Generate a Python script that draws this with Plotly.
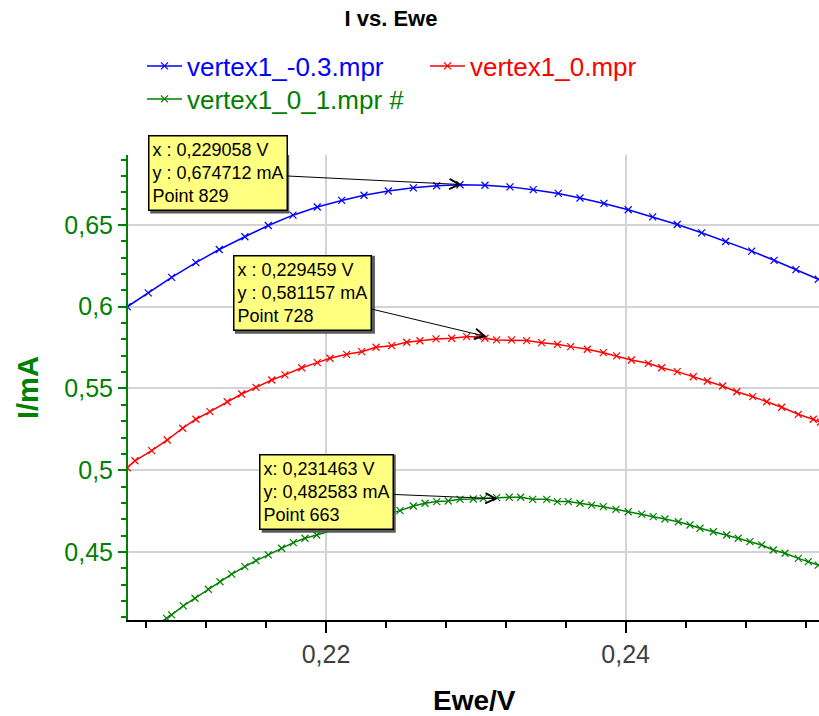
import plotly.graph_objects as go

# ---------------- data ----------------
blue_name = "vertex1_-0.3.mpr"
blue_x = [0.20674, 0.20814, 0.20970, 0.21132, 0.21288, 0.21459, 0.21615, 0.21780, 0.21942, 0.22105,
          0.22254, 0.22416, 0.22583, 0.22739, 0.22894, 0.23061, 0.23228, 0.23383, 0.23550, 0.23695,
          0.23855, 0.24017, 0.24180, 0.24344, 0.24507, 0.24667, 0.24841, 0.24990, 0.25136, 0.25285]
blue_y = [0.6000, 0.6085, 0.6180, 0.6270, 0.6350, 0.6428, 0.6497, 0.6560, 0.6610, 0.6650,
          0.6682, 0.6708, 0.6727, 0.6740, 0.6746, 0.6743, 0.6733, 0.6716, 0.6693, 0.6665,
          0.6632, 0.6593, 0.6550, 0.6503, 0.6452, 0.6399, 0.6340, 0.6284, 0.6227, 0.6168]

red_name = "vertex1_0.mpr"
red_x = [0.20674, 0.20725, 0.20837, 0.20941, 0.21044, 0.21132, 0.21226, 0.21341, 0.21437, 0.21533,
         0.21638, 0.21726, 0.21838, 0.21942, 0.22027, 0.22138, 0.22238, 0.22334, 0.22438, 0.22539,
         0.22627, 0.22734, 0.22839, 0.22939, 0.23016, 0.23061, 0.23139, 0.23239, 0.23339, 0.23439,
         0.23544, 0.23633, 0.23744, 0.23851, 0.23940, 0.24038, 0.24151, 0.24240, 0.24344, 0.24451,
         0.24545, 0.24647, 0.24741, 0.24848, 0.24941, 0.25041, 0.25152, 0.25252, 0.25300]
red_y = [0.5015, 0.5058, 0.5120, 0.5185, 0.5257, 0.5312, 0.5358, 0.5419, 0.5466, 0.5507,
         0.5552, 0.5583, 0.5627, 0.5658, 0.5685, 0.5709, 0.5725, 0.5752, 0.5762, 0.5783,
         0.5792, 0.5803, 0.5807, 0.5817, 0.5817, 0.5807, 0.5797, 0.5797, 0.5793, 0.5780,
         0.5770, 0.5756, 0.5740, 0.5719, 0.5699, 0.5674, 0.5654, 0.5627, 0.5603, 0.5572,
         0.5546, 0.5515, 0.5480, 0.5450, 0.5419, 0.5385, 0.5342, 0.5312, 0.5295]

green_name = "vertex1_0_1.mpr #"
green_x = [0.20880, 0.20937, 0.20970, 0.21048, 0.21126, 0.21215, 0.21293, 0.21371, 0.21459, 0.21533,
           0.21615, 0.21704, 0.21782, 0.21860, 0.21938, 0.22494, 0.22583, 0.22661, 0.22739, 0.22816,
           0.22894, 0.22983, 0.23050, 0.23139, 0.23223, 0.23299, 0.23379, 0.23473, 0.23544, 0.23617,
           0.23695, 0.23773, 0.23851, 0.23935, 0.24017, 0.24107, 0.24184, 0.24262, 0.24351, 0.24429,
           0.24496, 0.24585, 0.24674, 0.24751, 0.24829, 0.24908, 0.24985, 0.25063, 0.25152, 0.25219,
           0.25285]
green_y = [0.4060, 0.4094, 0.4115, 0.4170, 0.4217, 0.4272, 0.4318, 0.4365, 0.4410, 0.4447,
           0.4482, 0.4523, 0.4557, 0.4584, 0.4604, 0.4753, 0.4781, 0.4798, 0.4808, 0.4812,
           0.4822, 0.4824, 0.4828, 0.4832, 0.4835, 0.4835, 0.4822, 0.4822, 0.4808, 0.4808,
           0.4798, 0.4787, 0.4777, 0.4761, 0.4746, 0.4732, 0.4716, 0.4702, 0.4685, 0.4665,
           0.4645, 0.4624, 0.4604, 0.4584, 0.4563, 0.4543, 0.4512, 0.4492, 0.4461, 0.4441,
           0.4420]

x_tickvals = [0.22, 0.24]
x_ticktext = ["0,22", "0,24"]
y_tickvals = [0.45, 0.5, 0.55, 0.6, 0.65]
y_ticktext = ["0,45", "0,5", "0,55", "0,6", "0,65"]

# cursor annotations: (arrow tip x, arrow tip y, text lines)
ann_tip_x = [0.229058, 0.23074, 0.231463]
ann_tip_y = [0.674712, 0.5817, 0.482583]
ann_text = [
    ["x : 0,229058 V", "y : 0,674712 mA", "Point 829"],
    ["x : 0,229459 V", "y : 0,581157 mA", "Point 728"],
    ["x: 0,231463 V", "y: 0,482583 mA", "Point 663"],
]
ann_offset = [(-244, -12), (-184, -44), (-171, -7)]
ann_box_size = [(139, 78), (140, 78), (134, 78)]   # approx rendered box size, for the drop shadow

# ---------------- figure ----------------
FONT = "Arial, Liberation Sans, sans-serif"
GREEN = "#008000"
W, H = 819, 716
ML, MR, MT, MB = 128, 0, 155, 96
PW, PH = W - ML - MR, H - MT - MB


def px_to_paper_x(px):
    return (px - ML) / PW


def px_to_paper_y(py):
    return (H - MB - py) / PH


fig = go.Figure()
series = [
    (blue_name, blue_x, blue_y, "#0000FF", "legend"),
    (red_name, red_x, red_y, "#FF0000", "legend2"),
    (green_name, green_x, green_y, "#008000", "legend3"),
]
for name, xs, ys, col, lg in series:
    fig.add_trace(go.Scatter(
        x=xs, y=ys, name=name, mode="lines+markers", legend=lg,
        line=dict(color=col, width=1.5),
        marker=dict(symbol="x-thin", size=7, color=col, line=dict(color=col, width=1.2)),
    ))

annotations = []
shapes = []
SH = 2
for tx, ty, lines, (ax, ay), (bw_, bh_) in zip(ann_tip_x, ann_tip_y, ann_text, ann_offset, ann_box_size):
    annotations.append(dict(
        x=tx, y=ty, xref="x", yref="y", text="<br>".join(lines),
        showarrow=True, ax=ax, ay=ay, axref="pixel", ayref="pixel",
        arrowhead=5, arrowsize=2, arrowwidth=1, arrowcolor="black",
        font=dict(family=FONT, size=18, color="black"), align="left",
        bgcolor="#FFFF80", bordercolor="black", borderwidth=1.5, borderpad=3,
    ))
    # drop shadow behind the box
    shapes.append(dict(
        type="rect", layer="above", xref="x", yref="y",
        xsizemode="pixel", ysizemode="pixel", xanchor=tx, yanchor=ty,
        x0=ax - bw_ / 2 + SH, x1=ax + bw_ / 2 + SH,
        y0=-ay - bh_ / 2 - SH, y1=-ay + bh_ / 2 - SH,
        fillcolor="#5a5a5a", line=dict(width=0),
    ))

# axis titles
annotations.append(dict(text="<b>Ewe/V</b>", xref="paper", yref="paper",
                        x=px_to_paper_x(475), y=px_to_paper_y(700), xanchor="center", yanchor="middle",
                        showarrow=False, font=dict(family=FONT, size=28, color="black")))
annotations.append(dict(text="<b>I/mA</b>", xref="paper", yref="paper",
                        x=px_to_paper_x(28), y=px_to_paper_y(388), xanchor="center", yanchor="middle",
                        textangle=-90, showarrow=False, font=dict(family=FONT, size=29, color=GREEN)))


def legend_at(px, py, col):
    return dict(xref="paper", yref="paper", x=px_to_paper_x(px), y=px_to_paper_y(py),
                xanchor="left", yanchor="middle", bgcolor="rgba(0,0,0,0)", orientation="h",
                itemwidth=35,
                font=dict(family=FONT, size=26, color=col), borderwidth=0)


fig.update_layout(
    width=W, height=H, autosize=False,
    margin=dict(l=ML, r=MR, t=MT, b=MB, pad=0),
    paper_bgcolor="white", plot_bgcolor="white",
    separators=", ",
    title=dict(text="<b>I vs. Ewe</b>", x=391 / W, xref="container", xanchor="center",
               y=1 - 18 / H, yref="container", yanchor="middle",
               font=dict(family=FONT, size=22, color="black")),
    showlegend=True,
    legend=legend_at(142, 66, "#0000FF"),
    legend2=legend_at(425, 66, "#FF0000"),
    legend3=legend_at(142, 99, GREEN),
    annotations=annotations,
    shapes=shapes,
    xaxis=dict(range=[0.20679, 0.2529], tickmode="array", tickvals=x_tickvals, ticktext=x_ticktext,
               showline=True, linecolor="black", linewidth=2, mirror=False,
               ticks="outside", ticklen=11, tickwidth=2, tickcolor="black",
               tickfont=dict(family=FONT, size=25, color="#404040"),
               showgrid=True, gridcolor="#d3d3d3", gridwidth=2, zeroline=False,
               minor=dict(dtick=0.004, tick0=0.2, ticks="outside", ticklen=6, tickwidth=2,
                          tickcolor="black", showgrid=False)),
    yaxis=dict(range=[0.4084, 0.6928], tickmode="array", tickvals=y_tickvals, ticktext=y_ticktext,
               showline=True, linecolor=GREEN, linewidth=2, mirror=False,
               ticks="outside", ticklen=8, tickwidth=2, tickcolor=GREEN,
               tickfont=dict(family=FONT, size=25, color=GREEN),
               showgrid=True, gridcolor="#d3d3d3", gridwidth=2, zeroline=False,
               minor=dict(dtick=0.01, tick0=0.4, ticks="outside", ticklen=5, tickwidth=2,
                          tickcolor=GREEN, showgrid=False)),
)

fig.write_html("out.html")
